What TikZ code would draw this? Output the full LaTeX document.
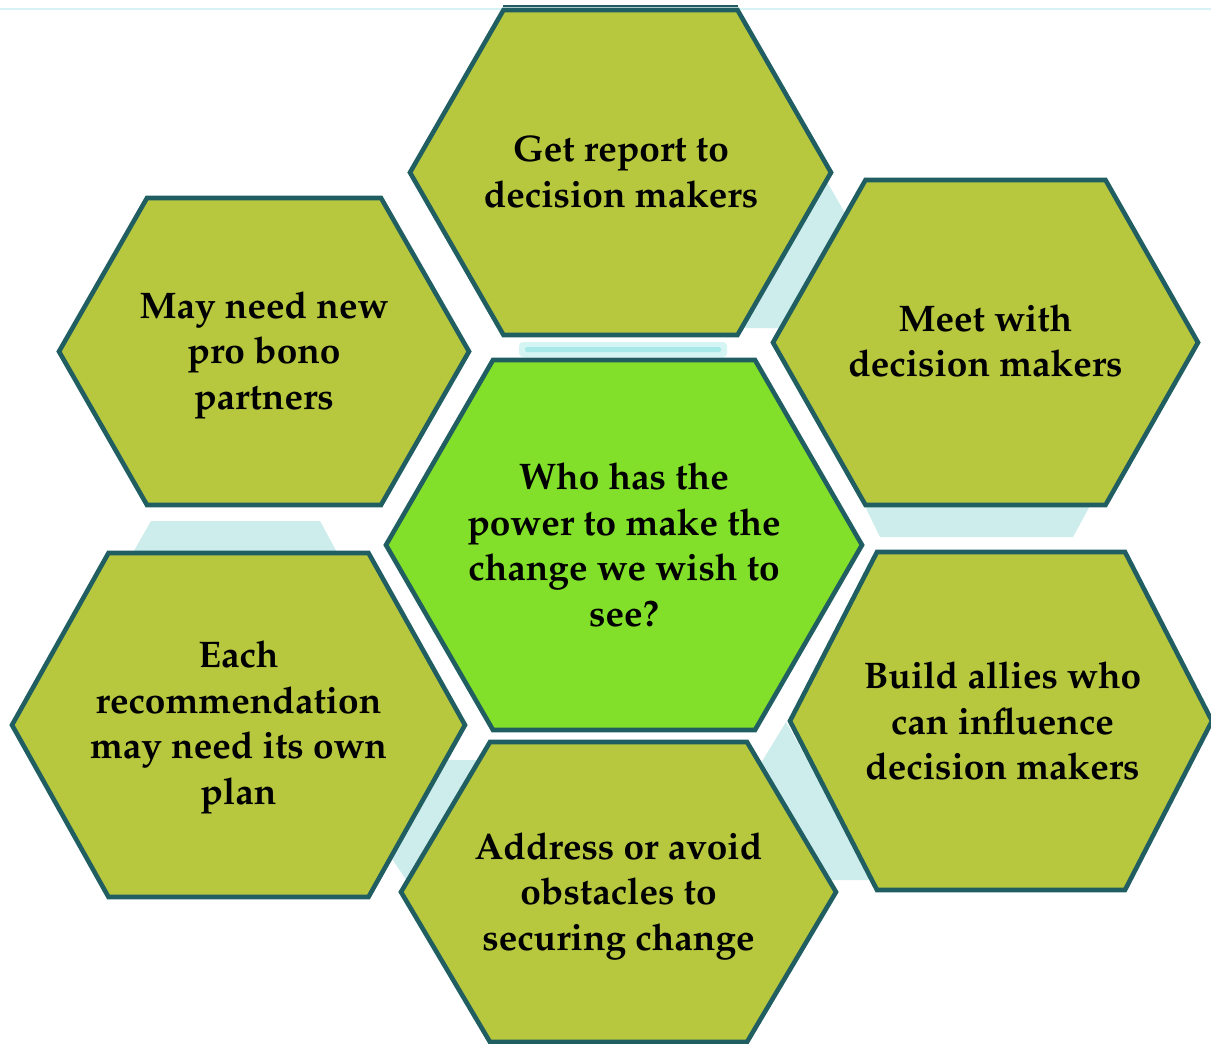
\documentclass[tikz,border=0pt]{standalone}
\usepackage[T1]{fontenc}
\usepackage{mathpazo}
\definecolor{olive}{HTML}{B7C73E}
\definecolor{lime}{HTML}{82DF2A}
\definecolor{teal}{HTML}{205E62}
\definecolor{paleblue}{HTML}{CDECEC}
\definecolor{barouter}{HTML}{D5F5F5}
\definecolor{barinner}{HTML}{A9E8E8}
\definecolor{topline}{HTML}{D5F3F5}
\tikzset{
  hexbase/.style={draw=teal, line width=4.6pt, line join=miter},
  hexolive/.style={hexbase, fill=olive},
  hexlime/.style={hexbase, fill=lime},
  gap/.style={fill=paleblue, draw=none},
  hextext/.style={align=center, inner sep=0pt, text=black,
    font=\fontsize{37}{45.5}\selectfont\bfseries}
}
% #1 style, #2 cx, #3 cy, #4 R (half width), #5 r (half top edge), #6 h (half height)
\newcommand\hexshape[6]{\draw[#1] ({#2-#4},#3) -- ({#2-#5},{#3-#6}) -- ({#2+#5},{#3-#6}) -- ({#2+#4},#3) -- ({#2+#5},{#3+#6}) -- ({#2-#5},{#3+#6}) -- cycle;}
\begin{document}
\begin{tikzpicture}[x=1pt,y=-1pt]
\useasboundingbox[fill=white] (0,0) rectangle (1211,1044);
% thin line at top
\draw[topline, line width=2pt] (0,9) -- (1211,9);
\draw[teal, line width=1.3pt] (503,6) -- (738,6);
% pale background pieces showing through the gaps
\fill[gap] (826,180) -- (846,215) -- (790,328) -- (741,328) -- cycle;
\fill[gap] (151,521) -- (320,521) -- (339,556) -- (131,556) -- cycle;
\fill[gap] (863,502) -- (1092,502) -- (1073,537) -- (880,537) -- cycle;
\fill[gap] (786,722) -- (758,768) -- (825,880) -- (875,880) -- cycle;
\fill[gap] (435,760) -- (485,760) -- (415,893) -- (380,841) -- cycle;
\fill[barouter, rounded corners=4pt] (519,342) rectangle (727,357);
\fill[barinner, rounded corners=2pt] (525,347) rectangle (721,352);
% hexagons
\hexshape{hexolive}{620.5}{172.5}{210.5}{117}{162.5}
\hexshape{hexolive}{264}{351.5}{205}{117}{153.5}
\hexshape{hexolive}{985.5}{342.5}{212.5}{120}{162.5}
\hexshape{hexolive}{238.5}{725}{226.5}{130}{172}
\hexshape{hexolive}{1001}{721}{211}{124}{169}
\hexshape{hexolive}{618.5}{892}{217.5}{128.5}{150}
\hexshape{hexlime}{624}{545}{238}{131}{185}
% texts
\node[hextext] (top) at (621,172) {Get report to\\decision makers};
\node[hextext] (topleft) at (264,355) {May need new\\pro bono\\partners};
\node[hextext] (topright) at (985.5,341) {Meet with\\decision makers};
\node[hextext] (centre) at (624,545) {Who has the\\power to make the\\change we wish to\\see?};
\node[hextext] (botleft) at (238.5,727.5) {Each\\recommendation\\may need its own\\plan};
\node[hextext] (botright) at (1002.5,721) {Build allies who\\can influence\\decision makers};
\node[hextext] (bottom) at (618.5,896) {Address or avoid\\obstacles to\\securing change};
\end{tikzpicture}
\end{document}
